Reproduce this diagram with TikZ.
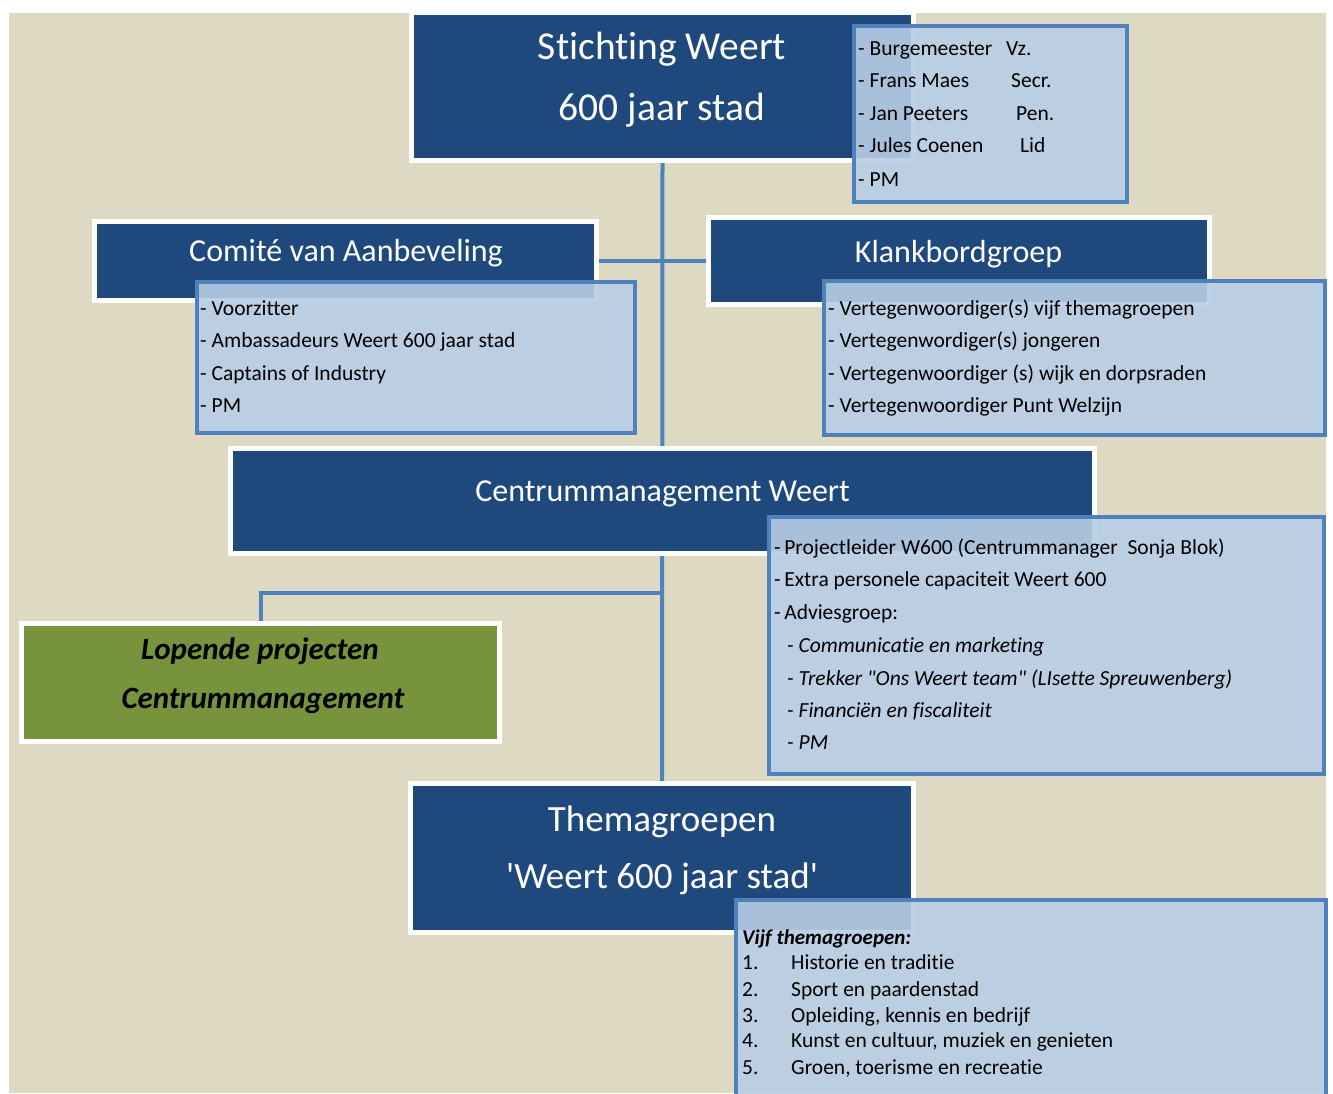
\documentclass[tikz,border=0pt]{standalone}
\usepackage{fontspec}
\setmainfont{Carlito}[Ligatures={TeXOff,CommonOff}]
\usetikzlibrary{backgrounds}
\definecolor{bg}{HTML}{DDD9C3}
\definecolor{dkblue}{HTML}{1F497D}
\definecolor{lnblue}{HTML}{4F81BD}
\definecolor{ltblue}{HTML}{B9CDE5}
\definecolor{olive}{HTML}{77933C}
\tikzset{
  bluebox/.style={draw=white, line width=5pt, fill=dkblue, inner sep=0pt, outer sep=0pt},
  greenbox/.style={draw=white, line width=5pt, fill=olive, inner sep=0pt, outer sep=0pt},
  listbox/.style={draw=lnblue, line width=4pt, fill=ltblue, fill opacity=0.9, draw opacity=1, inner sep=0pt, outer sep=0pt},
  conn/.style={draw=lnblue, line width=4pt},
  bigtitle/.style={text=white, anchor=base, inner sep=0pt, font=\fontsize{39.5}{39.5}\selectfont},
  midtitle/.style={text=white, anchor=base, inner sep=0pt, font=\fontsize{32}{32}\selectfont},
  thematitle/.style={text=white, anchor=base, inner sep=0pt, font=\fontsize{37}{37}\selectfont},
  greentitle/.style={text=black, anchor=base, inner sep=0pt, font=\fontsize{31}{31}\selectfont\bfseries\itshape},
  lt/.style={text=black, anchor=base west, inner sep=0pt, font=\fontsize{21.5}{21.5}\selectfont},
  lti/.style={lt, font=\fontsize{21.5}{21.5}\selectfont\itshape},
  ltbi/.style={lt, font=\fontsize{21}{21}\selectfont\itshape\bfseries},
}
\begin{document}
\begin{tikzpicture}[x=1pt,y=-1pt]
\useasboundingbox (0,0) rectangle (1333,1093);
\clip (0,0) rectangle (1333,1093);

% ---- Stichting + bestuur
\node[bluebox, minimum width=502pt, minimum height=148pt] (stichting) at (662.5,86.5) {};
\node[bigtitle] (stichtingT1) at (662,59) {Stichting Weert};
\node[bigtitle] (stichtingT2) at (662,120) {600 jaar stad};
\node[listbox, minimum width=273pt, minimum height=176pt] (bestuur) at (990.5,114) {};
\node[lt] (b1) at (858,55) {- Burgemeester};
\node[lt] (b1r) at (1006,55) {Vz.};
\node[lt] (b2) at (858,87) {- Frans Maes};
\node[lt] (b2r) at (1011,87) {Secr.};
\node[lt] (b3) at (858,120) {- Jan Peeters};
\node[lt] (b3r) at (1016,120) {Pen.};
\node[lt] (b4) at (858,152) {- Jules Coenen};
\node[lt] (b4r) at (1020,152) {Lid};
\node[lt] (b5) at (858,186) {- PM};

% ---- Comite
\node[bluebox, minimum width=502pt, minimum height=79pt] (comite) at (345.5,261) {};
\node[midtitle] (comiteT) at (346,261) {Comité van Aanbeveling};
\node[listbox, minimum width=438pt, minimum height=151pt] (comiteL) at (416,357.5) {};
\node[lt] (c1) at (200,315) {- Voorzitter};
\node[lt] (c2) at (200,347) {- Ambassadeurs Weert 600 jaar stad};
\node[lt] (c3) at (200,380) {- Captains of Industry};
\node[lt] (c4) at (200,412) {- PM};

% ---- Klankbordgroep
\node[bluebox, minimum width=501pt, minimum height=87pt] (klank) at (959,261) {};
\node[midtitle] (klankT) at (958.5,262) {Klankbordgroep};
\node[listbox, minimum width=501pt, minimum height=154pt] (klankL) at (1074.5,358) {};
\node[lt] (k1) at (828,315) {- Vertegenwoordiger(s) vijf themagroepen};
\node[lt] (k2) at (828,347) {- Vertegenwordiger(s) jongeren};
\node[lt] (k3) at (828,380) {- Vertegenwoordiger (s) wijk en dorpsraden};
\node[lt] (k4) at (828,412) {- Vertegenwoordiger Punt Welzijn};

% ---- Centrummanagement
\node[bluebox, minimum width=864pt, minimum height=105pt] (centrum) at (662.5,501) {};
\node[midtitle] (centrumT) at (662.5,501) {Centrummanagement Weert};
\node[listbox, minimum width=555pt, minimum height=257pt] (centrumL) at (1046.5,645.5) {};
\node[lt] (m1) at (774,554) {-\,Projectleider W600 (Centrummanager\ \ Sonja Blok)};
\node[lt] (m2) at (774,586) {-\,Extra personele capaciteit Weert 600};
\node[lt] (m3) at (774,619) {-\,Adviesgroep:};
\node[lti] (m4) at (787,652) {- Communicatie en marketing};
\node[lti] (m5) at (787,685) {- Trekker "Ons Weert team" (LIsette Spreuwenberg)};
\node[lti] (m6) at (787,717) {- Financiën en fiscaliteit};
\node[lti] (m7) at (787,749) {- PM};

% ---- Lopende projecten
\node[greenbox, minimum width=478pt, minimum height=118pt] (lopende) at (260.5,682.5) {};
\node[greentitle] (lopendeT1) at (260,659) {Lopende projecten};
\node[greentitle] (lopendeT2) at (263,708) {Centrummanagement};

% ---- Themagroepen
\node[bluebox, minimum width=503pt, minimum height=149pt] (thema) at (662,858) {};
\node[thematitle] (themaT1) at (662,831) {Themagroepen};
\node[thematitle] (themaT2) at (662,888) {'Weert 600 jaar stad'};
\node[listbox, minimum width=590pt, minimum height=200pt] (themaL) at (1031,1000) {};
\node[ltbi] (t0) at (742,944) {Vijf themagroepen:};
\node[lt] (t1n) at (742,969) {1.};
\node[lt] (t1) at (791,969) {Historie en traditie};
\node[lt] (t2n) at (742,996) {2.};
\node[lt] (t2) at (791,996) {Sport en paardenstad};
\node[lt] (t3n) at (742,1022) {3.};
\node[lt] (t3) at (791,1022) {Opleiding, kennis en bedrijf};
\node[lt] (t4n) at (742,1047) {4.};
\node[lt] (t4) at (791,1047) {Kunst en cultuur, muziek en genieten};
\node[lt] (t5n) at (742,1074) {5.};
\node[lt] (t5) at (791,1074) {Groen, toerisme en recreatie};

% ---- background and connectors
\begin{scope}[on background layer]
  \fill[bg] (9,13) rectangle (1326,1093);
  \draw[conn] (stichting.south) -- (thema.north);
  \draw[conn] (comite.east) -- (klank.west);
  \coordinate (lopJ) at (662,593);
  \draw[conn] (lopJ) -| (lopende.north);
\end{scope}
\end{tikzpicture}
\end{document}
